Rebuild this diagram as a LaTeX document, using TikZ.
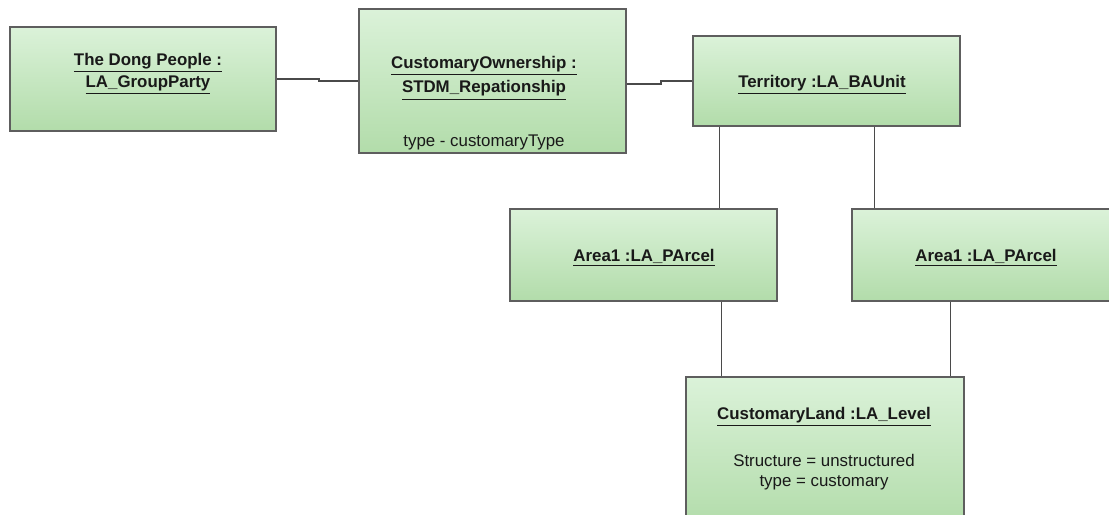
\documentclass[tikz,border=0pt]{standalone}
\usepackage{fontspec}
\setmainfont{Liberation Sans}
\usetikzlibrary{calc}

\definecolor{boxtop}{HTML}{DBF2D9}
\definecolor{boxbot}{HTML}{B2DCAA}
\definecolor{boxline}{HTML}{5E5E5E}
\definecolor{linkline}{HTML}{4A4A4A}

\tikzset{
  objbox/.style 2 args={draw=boxline, line width=1.1pt, top color=boxtop, bottom color=boxbot,
    minimum width=#1cm, minimum height=#2cm, inner sep=0pt},
  objname/.style={font=\fontsize{9.6}{12.5}\selectfont\bfseries, align=center, text=black!90},
  objattr/.style={font=\fontsize{9.6}{11.2}\selectfont, align=center, text=black!90},
  link/.style={draw=linkline, line width=0.8pt}
}

\begin{document}
\begin{tikzpicture}[x=0.02cm, y=-0.02cm]
\useasboundingbox (0,0) rectangle (1109,514);

% Party
\node[objbox={5.32}{2.08}] (dong) at (143,79) {};
\node[objname] (dongT) at (148,74) {\underline{The Dong People :}\\ \underline{LA\_GroupParty}};

% Relationship
\node[objbox={5.34}{2.88}] (own) at (492.5,81) {};
\node[objname, font=\fontsize{9.6}{14}\selectfont\bfseries] (ownT) at (484,78) {\underline{CustomaryOwnership :}\\ \underline{STDM\_Repationship}};
\node[objattr] (ownA) at (484,142) {type - customaryType};

% BA unit
\node[objbox={5.34}{1.80}] (terr) at (826.5,81) {};
\node[objname] (terrT) at (822,85) {\underline{Territory :LA\_BAUnit}};

% Parcels
\node[objbox={5.34}{1.84}] (parcelA) at (643.5,255) {};
\node[objname] (parcelAT) at (644,258) {\underline{Area1 :LA\_PArcel}};
\node[objbox={5.34}{1.84}] (parcelB) at (985.5,255) {};
\node[objname] (parcelBT) at (986,258) {\underline{Area1 :LA\_PArcel}};

% Level
\node[objbox={5.56}{3.00}] (level) at (825,452) {};
\node[objname] (levelT) at (824,417) {\underline{CustomaryLand :LA\_Level}};
\node[objattr] (levelA) at (824,472) {Structure = unstructured\\ type = customary};

% Links
\draw[link] (dong.east) -- ++(42,0) |- (own.west);
\draw[link] ($(own.east)+(0,3)$) -- ++(34,0) |- (terr.west);
\draw[link] ($(terr.south)+(-107,0)$) coordinate (t1) -- (t1 |- parcelA.north);
\draw[link] ($(terr.south)+(48,0)$) coordinate (t2) -- (t2 |- parcelB.north);
\draw[link] ($(parcelA.south)+(78,0)$) coordinate (p1) -- (p1 |- level.north);
\draw[link] ($(parcelB.south)+(-35,0)$) coordinate (p2) -- (p2 |- level.north);

\end{tikzpicture}
\end{document}
